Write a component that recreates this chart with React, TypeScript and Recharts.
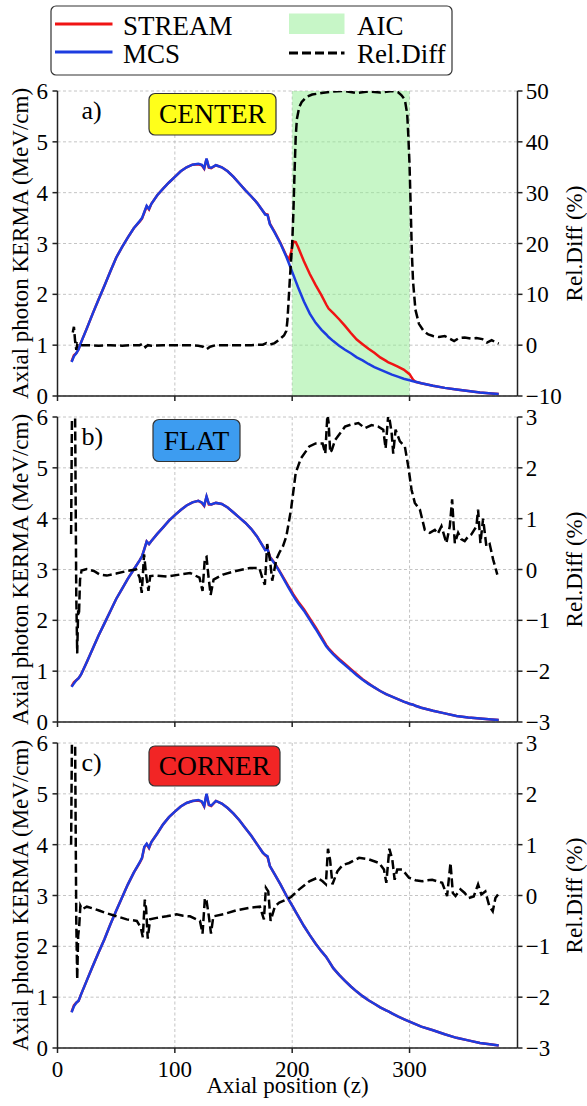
import React from 'react';
import { ComposedChart, Line, XAxis, YAxis, CartesianGrid, ReferenceArea, Legend, Label } from 'recharts';

const FONT = '"Liberation Serif", "DejaVu Serif", "Times New Roman", Times, serif';
const RED = '#f01414';
const BLUE = '#1c3ce0';
const AIC_FILL = '#90ee90';

// ---- ticks ----
const xTicks = [0, 100, 200, 300];
const kermaTicks = [0, 1, 2, 3, 4, 5, 6];
const diffTicksA = [-10, 0, 10, 20, 30, 40, 50];
const diffTicksBC = [-3, -2, -1, 0, 1, 2, 3];

// ---- axial positions for KERMA curves ----
const zK = [12, 14, 16, 18, 20, 25, 30, 35, 40, 45, 50, 55, 60, 65, 70, 72, 74, 76, 78, 80, 85, 90, 95, 100, 105, 110, 115, 120, 123, 125, 127, 129, 131, 135, 140, 145, 150, 155, 160, 165, 170, 175, 177, 179, 181, 185, 190, 195, 197, 199, 201, 203, 205, 210, 215, 220, 225, 229, 231, 235, 240, 245, 250, 255, 260, 265, 270, 275, 280, 282, 285, 290, 295, 300, 303, 305, 310, 320, 330, 340, 350, 360, 370, 376];

// ---- a) CENTER ----
const mcsA = [0.67, 0.78, 0.84, 0.92, 1.05, 1.33, 1.62, 1.90, 2.17, 2.45, 2.72, 2.93, 3.12, 3.30, 3.44, 3.50, 3.62, 3.74, 3.68, 3.78, 3.95, 4.08, 4.20, 4.31, 4.42, 4.50, 4.55, 4.57, 4.55, 4.48, 4.67, 4.50, 4.49, 4.54, 4.50, 4.42, 4.31, 4.18, 4.05, 3.93, 3.80, 3.64, 3.57, 3.56, 3.38, 3.22, 3.00, 2.74, 2.62, 2.50, 2.38, 2.26, 2.14, 1.86, 1.62, 1.44, 1.30, 1.21, 1.16, 1.08, 0.99, 0.91, 0.84, 0.76, 0.70, 0.63, 0.57, 0.52, 0.47, 0.45, 0.42, 0.38, 0.34, 0.31, 0.29, 0.28, 0.25, 0.20, 0.16, 0.13, 0.10, 0.07, 0.05, 0.04];
const streamA = [0.68, 0.80, 0.84, 0.92, 1.05, 1.33, 1.62, 1.90, 2.17, 2.45, 2.72, 2.93, 3.12, 3.30, 3.43, 3.49, 3.61, 3.73, 3.67, 3.78, 3.95, 4.08, 4.20, 4.31, 4.42, 4.50, 4.55, 4.56, 4.54, 4.47, 4.66, 4.49, 4.48, 4.54, 4.50, 4.42, 4.31, 4.18, 4.05, 3.93, 3.80, 3.64, 3.58, 3.57, 3.39, 3.23, 3.01, 2.76, 2.68, 2.82, 3.04, 3.03, 2.93, 2.65, 2.40, 2.18, 1.98, 1.80, 1.72, 1.63, 1.51, 1.38, 1.24, 1.11, 1.02, 0.93, 0.85, 0.76, 0.69, 0.66, 0.63, 0.58, 0.52, 0.43, 0.32, 0.28, 0.25, 0.20, 0.16, 0.13, 0.10, 0.07, 0.05, 0.04];
const zDA = [13, 14, 15, 16, 17, 19, 25, 35, 45, 55, 65, 70, 73, 75, 77, 80, 90, 100, 110, 120, 124, 127, 130, 135, 150, 165, 175, 178, 181, 185, 188, 191, 193, 195, 196, 197, 198, 199, 200, 201, 202, 203, 204, 206, 208, 212, 217, 225, 235, 245, 255, 265, 275, 285, 290, 293, 296, 298, 299, 300, 301, 302, 303, 305, 308, 312, 316, 320, 325, 330, 335, 338, 342, 347, 352, 357, 362, 366, 370, 373, 376];
const rdA = [2.5, 3.6, 0.8, -0.9, 0.3, 0.0, 0.0, -0.1, 0.0, -0.1, 0.0, 0.0, 0.3, -0.4, 0.0, -0.1, 0.0, 0.0, 0.0, -0.1, -0.3, -0.8, -0.3, 0.0, 0.0, 0.0, 0.1, 0.4, 0.1, 0.4, 0.9, 1.5, 1.9, 2.8, 5.0, 9.0, 13.0, 16.5, 20.0, 26.0, 34.0, 41.0, 44.5, 46.8, 47.8, 48.8, 49.3, 49.6, 49.9, 50.0, 49.6, 49.9, 49.7, 50.0, 49.8, 49.2, 48.3, 45.5, 41.0, 35.5, 27.0, 18.0, 12.5, 7.0, 4.2, 2.8, 2.1, 1.8, 1.6, 1.8, 1.2, 0.8, 1.4, 1.5, 1.3, 1.4, 1.2, 0.5, 1.0, 0.6, 0.3];

// ---- b) FLAT ----
const mcsB = [0.69, 0.76, 0.82, 0.86, 0.93, 1.18, 1.44, 1.70, 1.94, 2.18, 2.42, 2.62, 2.82, 3.00, 3.18, 3.26, 3.40, 3.55, 3.50, 3.56, 3.70, 3.83, 3.96, 4.07, 4.17, 4.26, 4.32, 4.35, 4.32, 4.26, 4.44, 4.29, 4.28, 4.31, 4.29, 4.22, 4.12, 4.02, 3.92, 3.80, 3.65, 3.46, 3.38, 3.40, 3.24, 3.12, 2.93, 2.72, 2.64, 2.56, 2.48, 2.41, 2.34, 2.19, 2.01, 1.83, 1.64, 1.49, 1.43, 1.33, 1.22, 1.12, 1.02, 0.92, 0.83, 0.75, 0.68, 0.61, 0.55, 0.53, 0.50, 0.45, 0.40, 0.36, 0.34, 0.32, 0.28, 0.22, 0.17, 0.12, 0.09, 0.07, 0.05, 0.04];
const streamB = [0.70, 0.78, 0.82, 0.86, 0.93, 1.18, 1.44, 1.70, 1.94, 2.18, 2.42, 2.62, 2.82, 3.00, 3.18, 3.26, 3.40, 3.55, 3.50, 3.56, 3.70, 3.83, 3.96, 4.07, 4.17, 4.26, 4.32, 4.35, 4.31, 4.25, 4.43, 4.28, 4.28, 4.31, 4.29, 4.22, 4.12, 4.02, 3.92, 3.80, 3.65, 3.46, 3.39, 3.41, 3.25, 3.13, 2.94, 2.74, 2.66, 2.59, 2.51, 2.44, 2.37, 2.22, 2.04, 1.86, 1.67, 1.51, 1.45, 1.35, 1.24, 1.14, 1.04, 0.94, 0.84, 0.76, 0.68, 0.61, 0.55, 0.53, 0.50, 0.45, 0.40, 0.36, 0.34, 0.32, 0.28, 0.22, 0.17, 0.12, 0.09, 0.07, 0.05, 0.04];
const zDB = [11.6, 12.8, 14.6, 16.0, 16.8, 17.6, 18.3, 19.2, 20.5, 25, 31, 36, 42, 50, 59, 67, 70, 71.8, 73.8, 75.5, 77.5, 79, 84, 93, 104, 113, 121, 123.6, 125.6, 127, 128.5, 130.5, 133, 141, 152, 164, 172, 175, 176.7, 178.7, 181, 183, 186.5, 189, 192, 195, 199, 203, 207.5, 214.6, 220, 225.9, 228.2, 230, 231, 232.4, 233.8, 236.6, 245, 250, 256.4, 262, 267.7, 273.4, 277.6, 279.6, 281.9, 283, 284.7, 286.1, 288.1, 291.8, 296, 298.9, 301.7, 304.5, 308.8, 313, 317.3, 321.5, 324, 327.2, 331.4, 334.3, 336.3, 337.5, 338.6, 341.4, 344, 347, 350, 352.7, 357, 358.4, 360.4, 362.7, 365.5, 368.3, 371.2, 374.8];
const rdB = [0.7, 4.5, 4.5, -0.5, -1.65, -0.8, -0.9, -0.2, -0.02, 0.01, -0.03, -0.1, -0.12, -0.08, -0.03, 0.0, -0.16, -0.46, 0.3, -0.1, -0.42, -0.13, -0.12, -0.14, -0.1, -0.07, -0.16, -0.42, 0.23, 0.25, -0.1, -0.5, -0.2, -0.1, -0.03, 0.03, 0.03, -0.2, -0.3, 0.5, 0.2, -0.22, 0.2, 0.33, 0.45, 0.65, 1.18, 1.9, 2.19, 2.42, 2.48, 2.48, 2.28, 3.05, 2.9, 2.3, 2.35, 2.55, 2.81, 2.85, 2.88, 2.78, 2.84, 2.81, 2.75, 2.38, 3.05, 2.95, 2.7, 2.28, 2.75, 2.52, 2.42, 2.03, 1.57, 1.31, 1.18, 0.78, 0.72, 0.78, 0.7, 0.85, 0.52, 0.85, 1.38, 0.9, 0.52, 0.72, 0.6, 0.56, 0.65, 0.69, 0.85, 1.18, 0.52, 1.0, 0.45, 0.5, 0.2, -0.1];

// ---- c) CORNER ----
const mcsC = [0.70, 0.82, 0.89, 0.93, 1.05, 1.33, 1.61, 1.88, 2.14, 2.43, 2.70, 2.96, 3.22, 3.45, 3.65, 3.74, 3.96, 4.02, 3.94, 4.05, 4.22, 4.40, 4.54, 4.65, 4.75, 4.82, 4.86, 4.88, 4.85, 4.76, 5.00, 4.79, 4.77, 4.86, 4.81, 4.72, 4.61, 4.48, 4.33, 4.18, 4.01, 3.84, 3.80, 3.77, 3.58, 3.42, 3.22, 3.00, 2.92, 2.84, 2.76, 2.68, 2.60, 2.40, 2.22, 2.05, 1.90, 1.79, 1.72, 1.57, 1.44, 1.32, 1.21, 1.11, 1.02, 0.94, 0.87, 0.80, 0.74, 0.72, 0.68, 0.62, 0.57, 0.52, 0.49, 0.47, 0.42, 0.35, 0.27, 0.20, 0.15, 0.10, 0.07, 0.05];
const streamC = [0.71, 0.84, 0.89, 0.93, 1.05, 1.33, 1.61, 1.88, 2.14, 2.43, 2.70, 2.96, 3.22, 3.45, 3.64, 3.73, 3.95, 4.01, 3.93, 4.05, 4.22, 4.40, 4.54, 4.65, 4.75, 4.82, 4.86, 4.87, 4.84, 4.75, 4.99, 4.78, 4.76, 4.86, 4.81, 4.72, 4.61, 4.48, 4.33, 4.18, 4.01, 3.84, 3.79, 3.76, 3.58, 3.42, 3.22, 3.00, 2.92, 2.84, 2.76, 2.68, 2.60, 2.40, 2.22, 2.05, 1.90, 1.79, 1.72, 1.57, 1.44, 1.32, 1.21, 1.11, 1.02, 0.94, 0.87, 0.80, 0.74, 0.72, 0.68, 0.62, 0.57, 0.52, 0.49, 0.47, 0.42, 0.35, 0.27, 0.20, 0.15, 0.10, 0.07, 0.05];
const zDC = [11.6, 12.8, 14.6, 16.0, 16.8, 17.6, 18.5, 19.5, 21, 25, 31, 36, 42, 50.6, 59, 67.6, 71, 72.7, 74.4, 75.5, 76.9, 78.9, 84.5, 93, 101.5, 107, 112.9, 121.4, 123.6, 125.6, 127, 129, 130.8, 132.8, 141.3, 152.6, 164, 172.5, 175.9, 177.6, 179.6, 181.6, 185.3, 189, 195, 199, 206, 214.6, 221.6, 225.9, 228.7, 230.5, 232.3, 234.3, 238.6, 243, 248.5, 257, 265.5, 274, 278.2, 280.2, 282.8, 285.3, 287.3, 289.5, 293.8, 299.5, 305, 310.8, 315, 319.3, 327.8, 332, 334.9, 336.9, 339.2, 343.4, 347, 350.5, 354.7, 358.4, 361.2, 364.6, 368, 370.9, 373.2, 375.4];
const rdC = [1.0, 4.5, 4.5, -0.5, -1.65, -0.8, -0.6, -0.2, -0.27, -0.22, -0.26, -0.3, -0.35, -0.41, -0.47, -0.5, -0.63, -0.82, -0.08, -0.25, -0.85, -0.47, -0.44, -0.41, -0.37, -0.4, -0.41, -0.5, -0.75, -0.05, -0.1, -0.41, -0.75, -0.41, -0.37, -0.29, -0.24, -0.22, -0.47, 0.15, 0.08, -0.5, -0.21, -0.14, -0.08, -0.03, 0.12, 0.28, 0.35, 0.28, 0.22, 0.92, 0.7, 0.22, 0.48, 0.6, 0.64, 0.74, 0.71, 0.64, 0.51, 0.25, 0.92, 0.71, 0.31, 0.51, 0.51, 0.35, 0.3, 0.28, 0.3, 0.31, 0.25, -0.01, 0.64, 0.05, -0.01, 0.12, 0.05, -0.05, -0.02, 0.22, 0.02, 0.08, -0.21, -0.31, -0.05, 0.02];

const legendLabels = ['STREAM', 'MCS', 'AIC', 'Rel.Diff'];

const kermaRows = (mcs: number[], stream: number[]) =>
  zK.map((z, i) => ({ z, mcs: mcs[i], stream: stream[i] }));
const diffRows = (zs: number[], d: number[]) => zs.map((z, i) => ({ z, d: d[i] }));

const fmt = (v: number) => (v < 0 ? '\u2212' + Math.abs(v) : String(v));
const tickStyle = { fill: '#000', fontSize: 23, fontFamily: FONT };
const axisLine = { stroke: '#222', strokeWidth: 1.5 };
const txt = { fontFamily: FONT };

const GLOBAL_CSS = `svg text, svg tspan { font-family: "Liberation Serif", "DejaVu Serif", "Times New Roman", Times, serif !important; }`;

const LegendBox = () => (
  <g>
    <rect x={51} y={6} width={401} height={69} rx={5} fill="#fff" stroke="#333" strokeWidth={1.2} />
    <line x1={55} x2={112.5} y1={24} y2={24} stroke={RED} strokeWidth={2.8} />
    <text x={123} y={35} fontSize={27} style={txt}>{legendLabels[0]}</text>
    <line x1={55} x2={112.5} y1={52} y2={52} stroke={BLUE} strokeWidth={2.8} />
    <text x={123} y={62.5} fontSize={27} style={txt}>{legendLabels[1]}</text>
    <rect x={289} y={13.5} width={55.5} height={20.5} fill={AIC_FILL} fillOpacity={0.5} />
    <text x={357} y={35} fontSize={27} style={txt}>{legendLabels[2]}</text>
    <line x1={289} x2={344.5} y1={53} y2={53} stroke="#000" strokeWidth={2.8} strokeDasharray="9 4" />
    <text x={357} y={62.5} fontSize={27} style={txt}>{legendLabels[3]}</text>
  </g>
);

type PanelProps = {
  top: number;
  height: number;
  marginTop: number;
  xAxisHeight: number;
  mcs: number[];
  stream: number[];
  dz: number[];
  dv: number[];
  diffDomain: [number, number];
  diffTicks: number[];
  showXLabels?: boolean;
  aic?: boolean;
  legend?: boolean;
};

const Panel = (p: PanelProps) => {
  const kerma = kermaRows(p.mcs, p.stream);
  const diff = diffRows(p.dz, p.dv);
  return (
    <div style={{ position: 'absolute', left: 0, top: p.top, fontFamily: FONT }}>
      <ComposedChart width={587} height={p.height} margin={{ top: p.marginTop, right: 0, bottom: 0, left: 0 }}>
        <CartesianGrid yAxisId="left" stroke="#bdbdbd" strokeDasharray="3 2.5" strokeWidth={0.9} />
        <XAxis
          type="number"
          dataKey="z"
          domain={[0, 392]}
          ticks={xTicks}
          interval={0}
          allowDataOverflow
          height={p.xAxisHeight}
          axisLine={axisLine}
          tickLine={axisLine}
          tickSize={5}
          tickMargin={7.5}
          tick={tickStyle}
          tickFormatter={p.showXLabels ? fmt : () => ''}
        >
          {p.showXLabels && (
            <Label value="Axial position (z)" position="center" dy={8} fontSize={23} fill="#000" style={txt} />
          )}
        </XAxis>
        <XAxis
          xAxisId="top"
          orientation="top"
          type="number"
          domain={[0, 392]}
          height={0}
          tick={false}
          tickLine={false}
          axisLine={axisLine}
        />
        <YAxis
          yAxisId="left"
          domain={[0, 6]}
          ticks={kermaTicks}
          interval={0}
          width={57.5}
          axisLine={axisLine}
          tickLine={axisLine}
          tickSize={5}
          tickMargin={4.5}
          tick={tickStyle}
        >
          <Label value="Axial photon KERMA (MeV/cm)" angle={-90} position="center" dx={-9} fontSize={23} fill="#000" style={txt} />
        </YAxis>
        <YAxis
          yAxisId="right"
          orientation="right"
          domain={p.diffDomain}
          ticks={p.diffTicks}
          interval={0}
          allowDataOverflow
          width={69.5}
          axisLine={axisLine}
          tickLine={axisLine}
          tickSize={5}
          tickMargin={3.2}
          tick={tickStyle}
          tickFormatter={fmt}
        >
          <Label value="Rel.Diff (%)" angle={-90} position="center" dx={21.5} fontSize={23} fill="#000" style={txt} />
        </YAxis>
        {p.aic && (
          <ReferenceArea yAxisId="left" x1={200} x2={300} y1={0} y2={6} fill={AIC_FILL} fillOpacity={0.5} stroke="none" />
        )}
        <Line yAxisId="left" data={kerma} dataKey="stream" type="linear" stroke={RED} strokeWidth={2.5} dot={false} activeDot={false} isAnimationActive={false} />
        <Line yAxisId="left" data={kerma} dataKey="mcs" type="linear" stroke={BLUE} strokeWidth={2.5} dot={false} activeDot={false} isAnimationActive={false} />
        <Line yAxisId="right" data={diff} dataKey="d" type="linear" stroke="#000" strokeWidth={2.5} strokeDasharray="9 4" dot={false} activeDot={false} isAnimationActive={false} />
      </ComposedChart>
    </div>
  );
};

const Tag = ({ x, y, w, h, fill, text, label, labelBase }: { x: number; y: number; w: number; h: number; fill: string; text: string; label: string; labelBase: number }) => (
  <g>
    <text x={81.5} y={labelBase} fontSize={26} fill="#000" style={txt}>{label}</text>
    <rect x={x} y={y} width={w} height={h} rx={6} fill={fill} stroke="#333" strokeWidth={1.2} />
    <text x={x + w / 2} y={y + h / 2 + 9.2} textAnchor="middle" fontSize={27.5} fill="#000" style={txt}>{text}</text>
  </g>
);

export default function App() {
  return (
    <div style={{ position: 'absolute', left: 0, top: 0, width: 587, height: 1106, overflow: 'hidden', background: '#fff', fontFamily: FONT }}>
      <style>{GLOBAL_CSS}</style>
      <Panel top={0} height={412} marginTop={91} xAxisHeight={16} mcs={mcsA} stream={streamA} dz={zDA} dv={rdA} diffDomain={[-10, 50]} diffTicks={diffTicksA} aic legend />
      <Panel top={400} height={338} marginTop={17} xAxisHeight={16} mcs={mcsB} stream={streamB} dz={zDB} dv={rdB} diffDomain={[-3, 3]} diffTicks={diffTicksBC} />
      <Panel top={726} height={380} marginTop={17} xAxisHeight={58} mcs={mcsC} stream={streamC} dz={zDC} dv={rdC} diffDomain={[-3, 3]} diffTicks={diffTicksBC} showXLabels />
      <svg width={587} height={1106} style={{ position: 'absolute', left: 0, top: 0, pointerEvents: 'none', fontFamily: FONT }}>
        <LegendBox />
        <Tag label="a)" labelBase={119} x={149} y={93.5} w={127} h={41.5} fill="#ffff1a" text="CENTER" />
        <Tag label="b)" labelBase={445} x={153} y={419.5} w={87} h={42} fill="#3d9cf0" text="FLAT" />
        <Tag label="c)" labelBase={771} x={149} y={746} w={131} h={40} fill="#f22525" text="CORNER" />
      </svg>
    </div>
  );
}
